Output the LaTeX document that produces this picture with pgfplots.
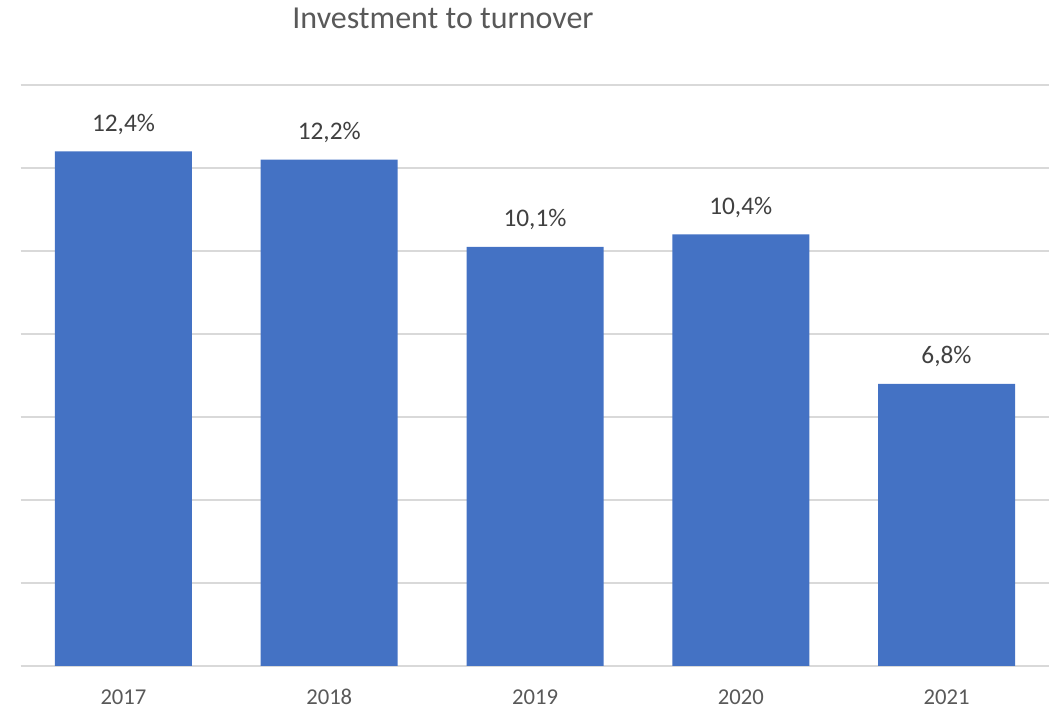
\documentclass[border=0pt]{standalone}
\usepackage{pgfplots}
\pgfplotsset{compat=1.18}
\usepackage{fontspec}
\setmainfont{Carlito}
\definecolor{barblue}{HTML}{4472C4}
\definecolor{gridgray}{HTML}{D9D9D9}
\definecolor{txtgray}{HTML}{595959}
\definecolor{lblgray}{HTML}{404040}
\begin{document}
\begin{tikzpicture}
\begin{axis}[
  at={(0,0)}, anchor=south west,
  scale only axis,
  width=771.6pt, height=435.75pt,
  xmin=-0.5, xmax=4.5,
  ymin=0, ymax=14,
  ytick={0,2,4,6,8,10,12,14},
  yticklabels={},
  ymajorgrids,
  grid style={gridgray, line width=1.1pt},
  axis line style={draw=none},
  major tick length=0pt,
  xtick=data,
  xticklabels={2017,2018,2019,2020,2021},
  xticklabel style={font=\fontsize{17}{20}\selectfont, text=txtgray, anchor=base, yshift=-29pt},
  ybar, bar width=102.75pt,
  clip=false,
  /pgf/number format/assume math mode=true,
  nodes near coords={\pgfmathprintnumber[fixed, fixed zerofill, precision=1, use comma, assume math mode=true]{\pgfplotspointmeta}\%},
  nodes near coords style={font=\fontsize{19}{22}\selectfont, text=lblgray, anchor=base, yshift=15pt},
]
\addplot[fill=barblue, draw=none] coordinates {(0,12.4) (1,12.2) (2,10.1) (3,10.4) (4,6.8)};
\end{axis}
\node[font=\fontsize{24}{28}\selectfont, text=txtgray] at (316.8pt,486pt) {Investment to turnover};
\pgfresetboundingbox
\useasboundingbox (-15.45pt,-32.25pt) rectangle (772.8pt,499.5pt);
\end{tikzpicture}
\end{document}
